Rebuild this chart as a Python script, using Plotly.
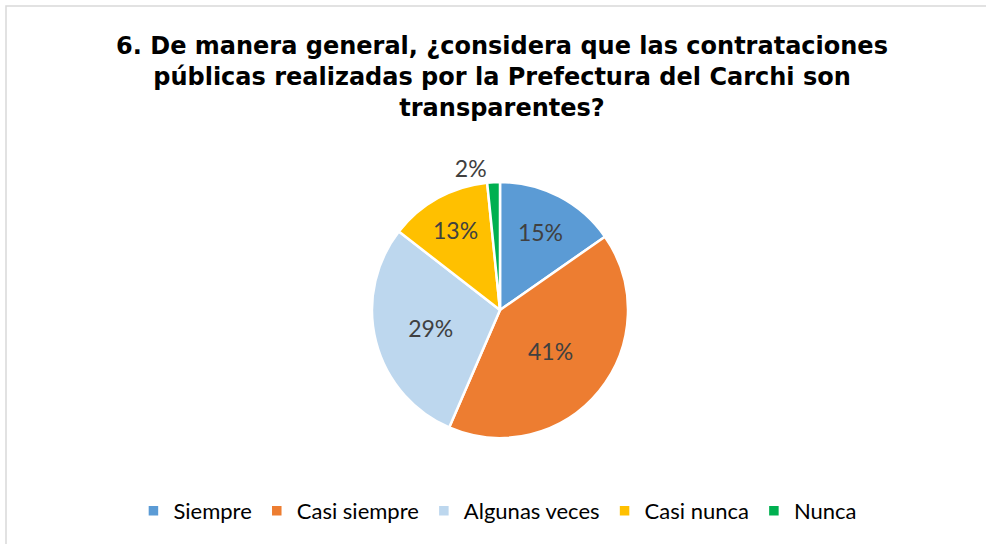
import plotly.graph_objects as go

categories = ["Siempre", "Casi siempre", "Algunas veces", "Casi nunca", "Nunca"]
values = [15.3, 41.2, 29.0, 12.9, 1.6]
colors = ["#5B9BD5", "#ED7D31", "#BDD7EE", "#FFC000", "#00B050"]
text_positions = ["inside", "inside", "inside", "inside", "outside"]

title_text = ("6. De manera general, ¿considera que las contrataciones<br>"
              "públicas realizadas por la Prefectura del Carchi son<br>"
              "transparentes?")

W, H = 986, 544

fig = go.Figure(go.Pie(
    labels=categories,
    values=values,
    sort=False,
    direction="clockwise",
    rotation=0,
    marker=dict(colors=colors, line=dict(color="white", width=2.5)),
    texttemplate="%{percent:.0%}",
    textposition=text_positions,
    insidetextorientation="horizontal",
    textfont=dict(family="Lato, Open Sans, sans-serif", size=23, color="#404040"),
    domain=dict(x=[372 / W, 628 / W], y=[1 - 438 / H, 1 - 182 / H]),
    hoverinfo="label+percent",
))

fig.update_layout(
    width=W, height=H,
    margin=dict(l=0, r=0, t=0, b=0),
    paper_bgcolor="white",
    title=dict(
        text=title_text,
        x=502 / W, xanchor="center",
        y=1 - 54 / H, yanchor="top",
        font=dict(family="DejaVu Sans", size=24, color="#000000", weight="bold"),
    ),
    legend=dict(
        orientation="h",
        x=0.505, xanchor="center",
        y=1 - 511 / H, yanchor="middle",
        font=dict(family="Lato, Open Sans, sans-serif", size=22, color="#000000"),
        itemwidth=30,
        traceorder="normal",
    ),
    shapes=[dict(
        type="rect", xref="paper", yref="paper",
        x0=6 / W, x1=1.02, y0=-0.02, y1=1 - 6 / H,
        line=dict(color="#D9D9D9", width=1.5),
        fillcolor="rgba(0,0,0,0)",
    )],
)

fig.write_html("out.html", config={"displayModeBar": False},
               post_script="document.body.style.margin='0';")
